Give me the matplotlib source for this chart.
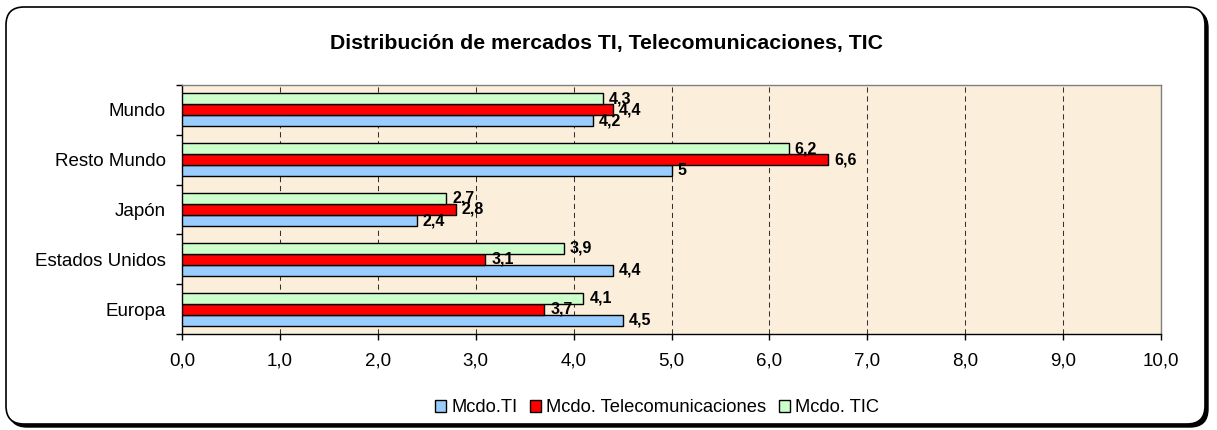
import numpy as np
import matplotlib.pyplot as plt
from matplotlib.patches import FancyBboxPatch

regiones = ['Europa', 'Estados Unidos', 'Japón', 'Resto Mundo', 'Mundo']
mcdo_ti = [4.5, 4.4, 2.4, 5.0, 4.2]
mcdo_tel = [3.7, 3.1, 2.8, 6.6, 4.4]
mcdo_tic = [4.1, 3.9, 2.7, 6.2, 4.3]
series = ['Mcdo.TI', 'Mcdo. Telecomunicaciones', 'Mcdo. TIC']
colores = ['#99CCFF', '#FF0000', '#CCFFCC']
x_ticks = np.arange(0, 11)

plt.rcParams['font.family'] = ['Liberation Sans', 'DejaVu Sans']

W, H = 1217, 430
fig = plt.figure(figsize=(W / 100, H / 100), dpi=100)

# fondo: marco redondeado con sombra (coordenadas en pixeles)
bg = fig.add_axes([0, 0, 1, 1])
bg.set_xlim(0, W)
bg.set_ylim(H, 0)
bg.axis('off')
sombra = FancyBboxPatch((9, 10), 1199, 417, boxstyle='round,pad=0,rounding_size=18',
                        facecolor='black', edgecolor='black', linewidth=1)
marco = FancyBboxPatch((6, 7), 1199, 417, boxstyle='round,pad=0,rounding_size=18',
                       facecolor='white', edgecolor='black', linewidth=1.2)
bg.add_patch(sombra)
bg.add_patch(marco)

ax = fig.add_axes([182 / W, (H - 334) / H, (1161 - 182) / W, (334 - 85) / H])
ax.set_facecolor('#FBEEDA')

h = 0.222
y = np.arange(len(regiones))
for i, vals in enumerate([mcdo_ti, mcdo_tel, mcdo_tic]):
    pos = y + (i - 1) * h
    ax.barh(pos, vals, height=h, color=colores[i], edgecolor='black',
            linewidth=1.0, label=series[i], zorder=3)
    for p, v in zip(pos, vals):
        ax.text(v + 0.06, p, f'{v:g}'.replace('.', ','), va='center', ha='left',
                fontsize=11.5, fontweight='bold', zorder=4)

ax.set_xlim(0, 10)
ax.set_ylim(-0.5, len(regiones) - 0.5)
ax.set_xticks(x_ticks)
ax.set_xticklabels([f'{t:.1f}'.replace('.', ',') for t in x_ticks], fontsize=13.5)
ax.tick_params(axis='x', direction='out', length=4, width=1, pad=9)
ax.xaxis.grid(True, linestyle=(0, (5, 3.6)), color='#333333', linewidth=0.75)
ax.set_axisbelow(True)

ax.set_yticks(np.arange(-0.5, len(regiones), 1))
ax.set_yticklabels([])
ax.tick_params(axis='y', which='major', direction='out', length=4, width=1)
ax.set_yticks(y, regiones, minor=True)
ax.tick_params(axis='y', which='minor', length=0, pad=11.5, labelsize=13.5)

for s in ['left', 'bottom']:
    ax.spines[s].set_color('black')
    ax.spines[s].set_linewidth(1)
for s in ['top', 'right']:
    ax.spines[s].set_color('#808080')
    ax.spines[s].set_linewidth(1)

fig.text(607 / W, 1 - 43 / H, 'Distribución de mercados TI, Telecomunicaciones, TIC',
         ha='center', va='center', fontsize=15.3, fontweight='bold')

handles, labels = ax.get_legend_handles_labels()
fig.legend(handles, labels, loc='center', bbox_to_anchor=(657 / W, 1 - 408 / H),
           ncol=3, frameon=False, fontsize=13.2, handlelength=0.62, handleheight=0.62,
           handletextpad=0.25, columnspacing=0.7)

fig.savefig('out.png', dpi=100)
